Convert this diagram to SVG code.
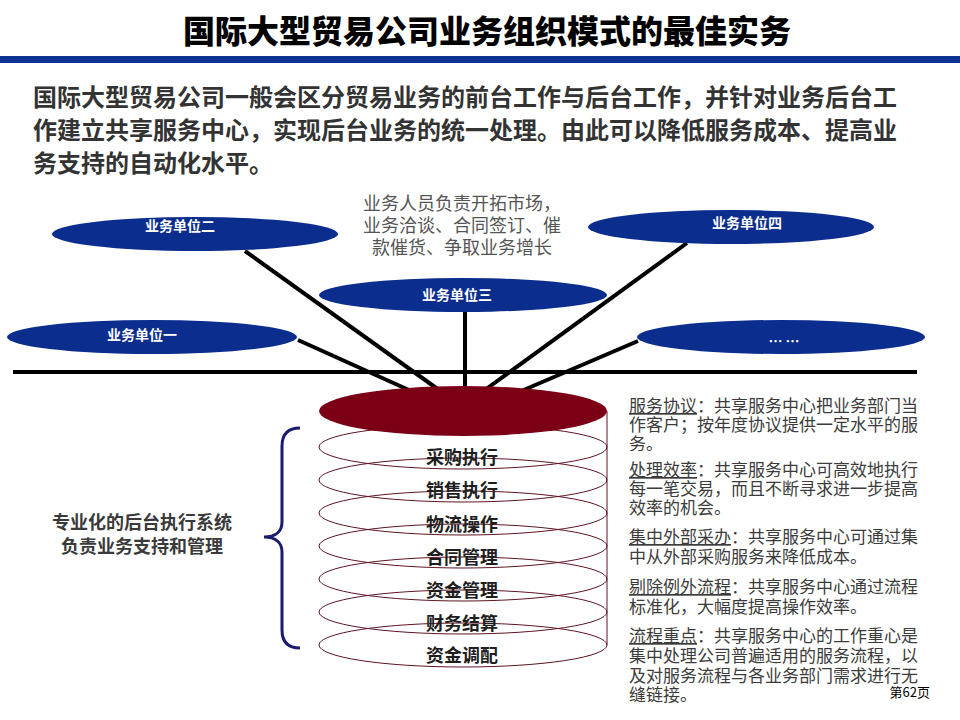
<svg xmlns="http://www.w3.org/2000/svg" width="960" height="720" viewBox="0 0 960 720">
<style>
.cjk{font-family:"Noto Sans CJK SC","Noto Sans",sans-serif}
.unit{fill:#0b2d8e}
.ulab{font-size:14px;font-weight:700;fill:#ffffff;text-anchor:middle}
.disc{fill:none;stroke:#5e1422;stroke-width:1}
.item{font-size:18px;font-weight:700;fill:#1e1e1e;text-anchor:middle}
.note{font-size:17px;fill:#3c3c3c}
.con{stroke:#000;stroke-width:4;fill:none}
.u{text-decoration:underline}
</style>
<rect width="960" height="720" fill="#ffffff"/>
<g id="title">
<text class="cjk" x="487" y="43" font-size="32" font-weight="900" text-anchor="middle" fill="#000">国际大型贸易公司业务组织模式的最佳实务</text>
<rect x="0" y="56" width="960" height="7" fill="#0d3494"/>
</g>
<g id="intro" class="cjk" font-size="24" font-weight="700" fill="#333333">
<text x="33" y="106">国际大型贸易公司一般会区分贸易业务的前台工作与后台工作，并针对业务后台工</text>
<text x="33" y="139">作建立共享服务中心，实现后台业务的统一处理。由此可以降低服务成本、提高业</text>
<text x="33" y="172">务支持的自动化水平。</text>
</g>
<g id="front-note" class="cjk" font-size="18" fill="#555555" text-anchor="middle">
<text x="462" y="210">业务人员负责开拓市场，</text>
<text x="462" y="232">业务洽谈、合同签订、催</text>
<text x="462" y="254">款催货、争取业务增长</text>
</g>
<g id="connectors">
<line class="con" x1="13" y1="372" x2="917" y2="372"/>
<line class="con" x1="245" y1="251" x2="446" y2="395"/>
<line class="con" x1="298" y1="340" x2="420" y2="395"/>
<line class="con" x1="465" y1="312" x2="465" y2="395"/>
<line class="con" x1="687" y1="243" x2="478" y2="395"/>
<line class="con" x1="638" y1="341" x2="512" y2="395"/>
</g>
<g id="unit2"><ellipse class="unit" cx="195" cy="234" rx="143" ry="17"/><text class="cjk ulab" x="180" y="231">业务单位二</text></g>
<g id="unit1"><ellipse class="unit" cx="152" cy="337" rx="145" ry="17"/><text class="cjk ulab" x="142" y="340">业务单位一</text></g>
<g id="unit3"><ellipse class="unit" cx="463" cy="295" rx="144" ry="17"/><text class="cjk ulab" x="457" y="300">业务单位三</text></g>
<g id="unit4"><ellipse class="unit" cx="731" cy="227" rx="143" ry="17"/><text class="cjk ulab" x="747" y="228">业务单位四</text></g>
<g id="unit5"><ellipse class="unit" cx="781" cy="337" rx="144" ry="17"/><text class="cjk ulab" x="784" y="346">… …</text></g>
<g id="backoffice">
<line x1="607" y1="411" x2="607" y2="645" stroke="#5e1422" stroke-width="1"/>
<ellipse class="disc" cx="463" cy="447" rx="144" ry="22"/>
<ellipse class="disc" cx="463" cy="480" rx="144" ry="22"/>
<ellipse class="disc" cx="463" cy="513" rx="144" ry="22"/>
<ellipse class="disc" cx="463" cy="546" rx="144" ry="22"/>
<ellipse class="disc" cx="463" cy="579" rx="144" ry="22"/>
<ellipse class="disc" cx="463" cy="612" rx="144" ry="22"/>
<ellipse class="disc" cx="463" cy="645" rx="144" ry="22"/>
<ellipse cx="463" cy="411" rx="144" ry="25" fill="#7b0016"/>
<text class="cjk item" x="462" y="464">采购执行</text>
<text class="cjk item" x="462" y="497">销售执行</text>
<text class="cjk item" x="462" y="531">物流操作</text>
<text class="cjk item" x="462" y="564">合同管理</text>
<text class="cjk item" x="462" y="597">资金管理</text>
<text class="cjk item" x="462" y="630">财务结算</text>
<text class="cjk item" x="462" y="662">资金调配</text>
</g>
<g id="brace">
<path d="M300,428 C288,428 282,434 282,446 L282,522 C282,531 276,537 264,537 C276,537 282,543 282,552 L282,630 C282,642 288,648 300,648" fill="none" stroke="#1a1a6e" stroke-width="3"/>
<text class="cjk" x="142" y="529" font-size="18" font-weight="700" fill="#3a3a3a" text-anchor="middle">专业化的后台执行系统</text>
<text class="cjk" x="142" y="553" font-size="18" font-weight="700" fill="#3a3a3a" text-anchor="middle">负责业务支持和管理</text>
</g>
<g id="notes" class="cjk note">
<text x="629" y="412"><tspan class="u">服务协议</tspan>：共享服务中心把业务部门当</text>
<text x="629" y="431">作客户；按年度协议提供一定水平的服</text>
<text x="629" y="450">务。</text>
<text x="629" y="476"><tspan class="u">处理效率</tspan>：共享服务中心可高效地执行</text>
<text x="629" y="495">每一笔交易，而且不断寻求进一步提高</text>
<text x="629" y="514">效率的机会。</text>
<text x="629" y="543"><tspan class="u">集中外部采办</tspan>：共享服务中心可通过集</text>
<text x="629" y="563">中从外部采购服务来降低成本。</text>
<text x="629" y="593"><tspan class="u">剔除例外流程</tspan>：共享服务中心通过流程</text>
<text x="629" y="613">标准化，大幅度提高操作效率。</text>
<text x="629" y="642"><tspan class="u">流程重点</tspan>：共享服务中心的工作重心是</text>
<text x="629" y="662">集中处理公司普遍适用的服务流程，以</text>
<text x="629" y="682">及对服务流程与各业务部门需求进行无</text>
<text x="629" y="701">缝链接。</text>
</g>
<text id="page" class="cjk" x="930" y="697" font-size="13" fill="#000" text-anchor="end">第62页</text>
</svg>
